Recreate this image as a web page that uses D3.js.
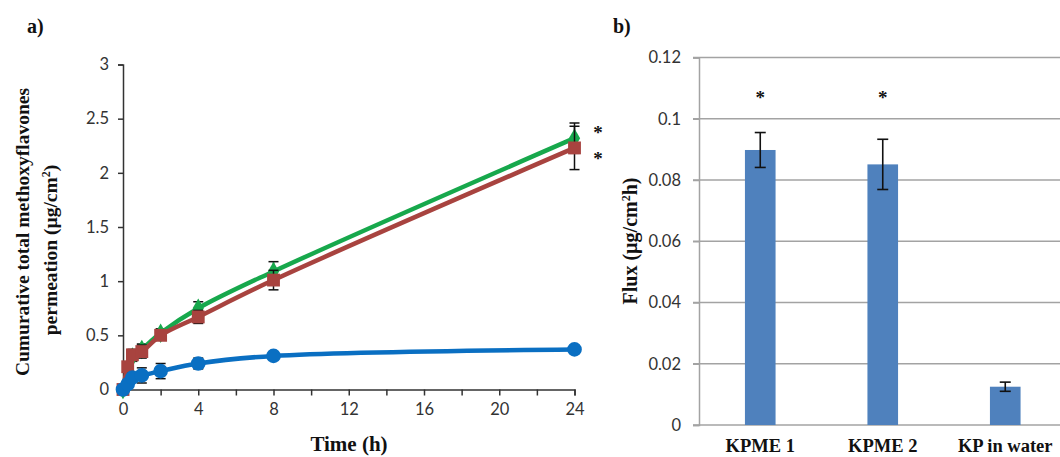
<!DOCTYPE html>
<html>
<head>
<meta charset="utf-8">
<script src="https://cdn.jsdelivr.net/npm/d3@7"></script>
<style>
  html, body { margin: 0; padding: 0; background: #fff; }
  svg { display: block; }
  .tick-label { font-family: Lato, "Open Sans", sans-serif; fill: #333; }
  .serif { font-family: "Liberation Serif", "Times New Roman", serif; font-weight: bold; fill: #111; }
</style>
</head>
<body>
<svg id="chart" width="1060" height="457"></svg>
<script>
// ---- Panel a: cumulative permeation over time ----
const times = [0, 0.25, 0.5, 1, 2, 4, 8, 24];
const kpme1Values = [0, 0.18, 0.30, 0.37, 0.52, 0.75, 1.09, 2.32];
const kpme1Errors = [0, 0.02, 0.04, 0.05, 0.04, 0.06, 0.09, 0.14];
const kpme2Values = [0, 0.21, 0.32, 0.35, 0.50, 0.67, 1.01, 2.23];
const kpme2Errors = [0, 0.03, 0.05, 0.06, 0.04, 0.06, 0.09, 0.20];
const waterValues = [0, 0.05, 0.11, 0.13, 0.17, 0.24, 0.31, 0.37];
const waterErrors = [0, 0.02, 0.04, 0.07, 0.07, 0.05, 0.03, 0.03];
const timeTicks = [0, 2, 4, 6, 8, 10, 12, 14, 16, 18, 20, 22, 24];
const timeLabels = [0, 4, 8, 12, 16, 20, 24];
const permTicks = [0, 0.5, 1, 1.5, 2, 2.5, 3];

// ---- Panel b: flux per formulation ----
const fluxCategories = ["KPME 1", "KPME 2", "KP in water"];
const fluxValues = [0.0898, 0.0851, 0.0125];
const fluxErrors = [0.0057, 0.0082, 0.0015];
const fluxSignificant = [true, true, false];
const fluxTicks = [0, 0.02, 0.04, 0.06, 0.08, 0.1, 0.12];

const svg = d3.select("#chart");

// ================= Panel a =================
const xA = d3.scaleLinear().domain([0, 24]).range([123, 574.5]);
const yA = d3.scaleLinear().domain([0, 3]).range([389.5, 64.5]);
const gA = svg.append("g");

// y axis
const yAxisA = d3.axisLeft(yA).tickValues(permTicks).tickSize(5).tickPadding(9)
  .tickFormat(d3.format("~g"));
gA.append("g").attr("transform", `translate(${xA(0)},0)`).call(yAxisA)
  .call(g => {
    g.select(".domain").attr("stroke", "#333").attr("stroke-width", 1.5);
    g.selectAll(".tick line").attr("stroke", "#333").attr("stroke-width", 1.5);
    g.selectAll(".tick text").attr("class", "tick-label").style("font-size", "16.5px");
  });

// x axis
const xAxisA = d3.axisBottom(xA).tickValues(timeTicks).tickSize(6).tickPadding(8)
  .tickFormat(d => timeLabels.includes(d) ? d : "");
gA.append("g").attr("transform", `translate(0,${yA(0)})`).call(xAxisA)
  .call(g => {
    g.select(".domain").attr("stroke", "#333").attr("stroke-width", 1.5);
    g.selectAll(".tick line").attr("stroke", "#333").attr("stroke-width", 1.5);
    g.selectAll(".tick text").attr("class", "tick-label").style("font-size", "16.5px");
  });

const seriesA = [
  { name: "KPME 1", values: kpme1Values, errors: kpme1Errors, color: "#17A84C", marker: d3.symbolDiamond, size: 110 },
  { name: "KPME 2", values: kpme2Values, errors: kpme2Errors, color: "#A8433F", marker: d3.symbolSquare, size: 165 },
  { name: "KP in water", values: waterValues, errors: waterErrors, color: "#0A6FC2", marker: d3.symbolCircle, size: 170 }
];

const line = d3.line()
  .x(d => xA(d.t))
  .y(d => yA(d.v))
  .curve(d3.curveCatmullRom.alpha(0.5));

seriesA.forEach(s => {
  const pts = times.map((t, i) => ({ t, v: s.values[i], e: s.errors[i] }));
  const g = gA.append("g");
  // error bars
  const eb = g.selectAll(".err").data(pts.filter(p => p.e > 0)).join("g");
  eb.append("line")
    .attr("x1", d => xA(d.t)).attr("x2", d => xA(d.t))
    .attr("y1", d => yA(d.v - d.e)).attr("y2", d => yA(d.v + d.e))
    .attr("stroke", "#111").attr("stroke-width", 1.5);
  [-1, 1].forEach(sign => {
    eb.append("line")
      .attr("x1", d => xA(d.t) - 5).attr("x2", d => xA(d.t) + 5)
      .attr("y1", d => yA(d.v + sign * d.e)).attr("y2", d => yA(d.v + sign * d.e))
      .attr("stroke", "#111").attr("stroke-width", 1.5);
  });
  // smoothed line
  g.append("path").datum(pts)
    .attr("d", line)
    .attr("fill", "none")
    .attr("stroke", s.color)
    .attr("stroke-width", 4.5);
  // markers
  g.selectAll(".mk").data(pts).join("path")
    .attr("transform", d => `translate(${xA(d.t)},${yA(d.v)})`)
    .attr("d", d3.symbol().type(s.marker).size(s.size))
    .attr("fill", s.color);
});

// significance markers at 24 h
[kpme1Values, kpme2Values].forEach((vals, i) => {
  const top = [128, 154][i];
  gA.append("text").attr("class", "serif")
    .attr("x", 598).attr("y", top + 11)
    .attr("text-anchor", "middle")
    .style("font-size", "19px")
    .text("*");
});

// axis titles
gA.append("text").attr("class", "serif").style("font-size", "19.5px")
  .attr("text-anchor", "middle")
  .attr("transform", "translate(29,232) rotate(-90)")
  .text("Cumurative total methoxyflavones");
gA.append("text").attr("class", "serif").style("font-size", "19.5px")
  .attr("text-anchor", "middle")
  .attr("transform", "translate(57,250) rotate(-90)")
  .call(t => {
    t.append("tspan").text("permeation (µg/cm");
    t.append("tspan").attr("dy", -7).style("font-size", "12px").text("2");
    t.append("tspan").attr("dy", 7).text(")");
  });

gA.append("text").attr("class", "serif").style("font-size", "21px")
  .attr("x", 349).attr("y", 451).attr("text-anchor", "middle").text("Time (h)");

svg.append("text").attr("class", "serif").style("font-size", "20px")
  .attr("x", 27).attr("y", 33).text("a)");

// ================= Panel b =================
const xB = d3.scaleBand().domain(fluxCategories).range([699, 1066.5]).padding(0);
const yB = d3.scaleLinear().domain([0, 0.12]).range([425, 57.5]);
const gB = svg.append("g");

// gridlines
gB.selectAll(".grid").data(fluxTicks).join("line")
  .attr("x1", 693).attr("x2", 1060)
  .attr("y1", d => yB(d)).attr("y2", d => yB(d))
  .attr("stroke", "#a3a3a3").attr("stroke-width", 1.5);

const yAxisB = d3.axisLeft(yB).tickValues(fluxTicks).tickSize(6).tickPadding(12)
  .tickFormat(d3.format("~g"));
gB.append("g").attr("transform", `translate(699,0)`).call(yAxisB)
  .call(g => {
    g.select(".domain").attr("stroke", "#a3a3a3").attr("stroke-width", 1.5);
    g.selectAll(".tick line").attr("stroke", "#a3a3a3").attr("stroke-width", 1.5);
    g.selectAll(".tick text").attr("class", "tick-label").style("font-size", "16.5px");
  });

const barW = xB.bandwidth() * 0.25;
gB.selectAll(".bar").data(fluxCategories).join("rect")
  .attr("x", d => xB(d) + xB.bandwidth() / 2 - barW / 2)
  .attr("width", barW)
  .attr("y", (d, i) => yB(fluxValues[i]))
  .attr("height", (d, i) => yB(0) - yB(fluxValues[i]))
  .attr("fill", "#4F81BD");

// flux error bars
fluxCategories.forEach((c, i) => {
  const cx = xB(c) + xB.bandwidth() / 2;
  const lo = yB(fluxValues[i] - fluxErrors[i]);
  const hi = yB(fluxValues[i] + fluxErrors[i]);
  gB.append("line").attr("x1", cx).attr("x2", cx).attr("y1", lo).attr("y2", hi)
    .attr("stroke", "#111").attr("stroke-width", 1.6);
  [lo, hi].forEach(y => gB.append("line")
    .attr("x1", cx - 5.5).attr("x2", cx + 5.5).attr("y1", y).attr("y2", y)
    .attr("stroke", "#111").attr("stroke-width", 1.6));
  if (fluxSignificant[i]) {
    gB.append("text").attr("class", "serif").style("font-size", "19px")
      .attr("x", cx).attr("y", 104).attr("text-anchor", "middle").text("*");
  }
});

// category labels
gB.selectAll(".cat").data(fluxCategories).join("text")
  .attr("class", "serif").style("font-size", "18.5px")
  .attr("x", d => xB(d) + xB.bandwidth() / 2)
  .attr("y", 452).attr("text-anchor", "middle")
  .text(d => d);

gB.append("text").attr("class", "serif").style("font-size", "20px")
  .attr("text-anchor", "middle")
  .attr("transform", "translate(637,241) rotate(-90)")
  .call(t => {
    t.append("tspan").text("Flux (µg/cm");
    t.append("tspan").attr("dy", -7).style("font-size", "12px").text("2");
    t.append("tspan").attr("dy", 7).text("h)");
  });

svg.append("text").attr("class", "serif").style("font-size", "20px")
  .attr("x", 613).attr("y", 33).text("b)");
</script>
</body>
</html>
